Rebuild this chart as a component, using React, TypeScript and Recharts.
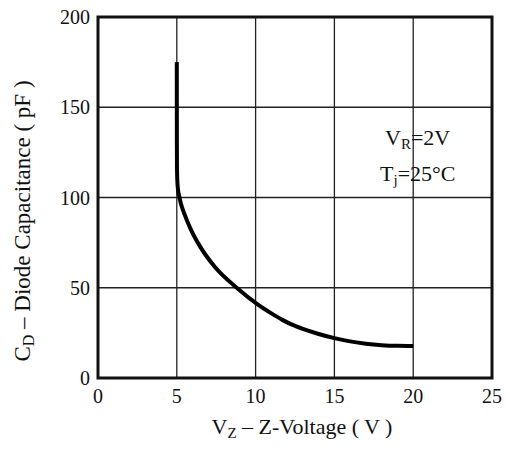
import { LineChart, Line, XAxis, YAxis, CartesianGrid, ReferenceArea } from 'recharts';

const VOLTAGE = [5, 5.002, 5.005, 5.01, 5.03, 5.08, 5.12, 5.25, 5.5, 5.88, 6.5, 7.42, 8.8, 10.17, 11, 11.7, 12.2, 13, 14, 15, 16, 17, 18, 19, 20];
const CAPACITANCE = [175, 150, 130, 118, 110, 104, 102, 97, 90.5, 82.5, 72.5, 61.5, 50, 40.5, 35.8, 32.2, 30, 27.2, 24.4, 22.1, 20.3, 19, 18.2, 17.8, 17.7];

const X_TICKS = [0, 5, 10, 15, 20, 25];
const Y_TICKS = [0, 50, 100, 150, 200];

const data = VOLTAGE.map((v, i) => ({ v, c: CAPACITANCE[i] }));

const FONT = '"Liberation Serif", "Times New Roman", serif';
const W = 507;
const H = 449;

export default function App() {
  return (
    <div style={{ position: 'relative', width: W, height: H, background: '#fff' }}>
      <style>{'body{margin:0}'}</style>
      <LineChart
        width={W}
        height={H}
        data={data}
        margin={{ top: 17, right: 15, left: 0, bottom: 0 }}
      >
        <CartesianGrid stroke="#222" strokeWidth={1.3} />
        <XAxis
          dataKey="v"
          type="number"
          domain={[0, 25]}
          ticks={X_TICKS}
          height={71}
          tickSize={0}
          tickMargin={11}
          axisLine={false}
          tick={{ fontSize: 20, fill: '#111', fontFamily: FONT }}
        />
        <YAxis
          type="number"
          domain={[0, 200]}
          ticks={Y_TICKS}
          width={98}
          tickSize={0}
          tickMargin={8}
          axisLine={false}
          tick={{ fontSize: 20, fill: '#111', fontFamily: FONT }}
        />
        <ReferenceArea x1={0} x2={25} y1={0} y2={200} fill="none" stroke="#111" strokeWidth={3} />
        <Line
          dataKey="c"
          type="monotone"
          stroke="#000"
          strokeWidth={4}
          dot={false}
          isAnimationActive={false}
        />
      </LineChart>
      <svg
        width={W}
        height={H}
        style={{ position: 'absolute', left: 0, top: 0, pointerEvents: 'none' }}
        fontFamily={FONT}
        fill="#111"
      >
        <text x={302} y={434} fontSize={22} textAnchor="middle">
          V<tspan fontSize={15} dy={4}>Z</tspan>
          <tspan dy={-4}> – Z-Voltage ( V )</tspan>
        </text>
        <text transform="translate(30,221) rotate(-90)" fontSize={23} textAnchor="middle">
          C<tspan fontSize={16} dy={4}>D</tspan>
          <tspan dy={-4}> – Diode Capacitance ( pF )</tspan>
        </text>
        <text x={385} y={145} fontSize={22}>
          V<tspan fontSize={15} dy={4}>R</tspan>
          <tspan dy={-4}>=2V</tspan>
        </text>
        <text x={380} y={181} fontSize={22}>
          T<tspan fontSize={15} dy={4}>j</tspan>
          <tspan dy={-4}>=25°C</tspan>
        </text>
      </svg>
    </div>
  );
}
